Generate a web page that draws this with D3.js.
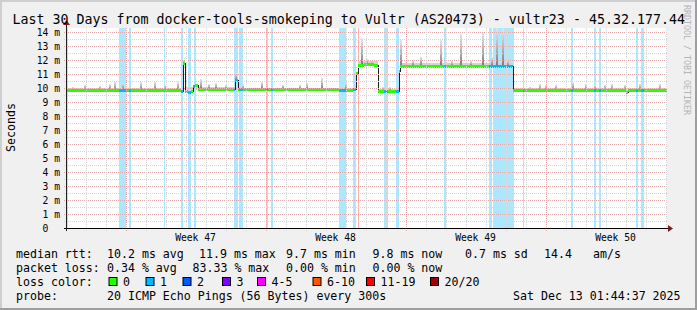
<!DOCTYPE html>
<html>
<head>
<meta charset="utf-8">
<script src="https://cdn.jsdelivr.net/npm/d3@7"></script>
<style>
  body { margin: 0; background: #f0f0f0; }
  svg text { font-family: "DejaVu Sans Mono", monospace; white-space: pre; fill: #000; }
</style>
</head>
<body>
<div id="chart"></div>
<script>
// window: last 30 days ending Sat Dec 13 01:44:37 2025 (grid drawn in CET)
const DAY = 864e5
const tEnd = Date.UTC(2025, 11, 13, 0, 44, 37)
const tStart = tEnd - 30 * DAY
const tzShift = 3600e3

// median rtt in ms, [startDay, endDay, value, lossLevel]
const medianSegs = [
  [0.00, 2.60, 9.85, 0], [2.60, 2.95, 9.85, 1], [2.95, 3.10, 9.85, 0], [3.10, 3.20, 9.85, 1],
  [3.20, 5.70, 9.85, 0], [5.70, 5.80, 9.80, 1], [5.80, 5.90, 11.80, 0], [5.90, 6.035, 9.80, 0],
  [6.035, 6.20, 9.75, 1], [6.20, 6.30, 9.80, 0], [6.30, 6.42, 10.15, 1], [6.42, 6.55, 10.25, 0],
  [6.55, 8.325, 9.95, 0], [8.325, 8.40, 9.90, 1], [8.40, 8.525, 10.55, 1], [8.525, 8.59, 9.90, 0],
  [8.59, 8.81, 9.90, 1], [8.81, 9.935, 9.90, 0], [9.935, 10.05, 9.90, 1], [10.05, 10.185, 9.90, 0],
  [10.185, 10.30, 9.90, 1], [10.30, 13.60, 9.90, 0], [13.60, 13.935, 9.85, 1], [13.935, 14.315, 9.85, 0],
  [14.315, 14.435, 9.90, 1], [14.435, 14.55, 11.05, 0], [14.55, 14.85, 11.65, 0], [14.85, 15.35, 11.75, 0],
  [15.35, 15.55, 11.65, 0], [15.55, 15.86, 9.80, 0], [15.86, 16.035, 9.80, 1], [16.035, 16.45, 9.80, 0],
  [16.45, 16.575, 9.80, 1], [16.575, 16.65, 11.25, 0], [16.65, 18.85, 11.55, 0], [18.85, 18.925, 11.55, 1],
  [18.925, 21.115, 11.55, 0], [21.115, 22.30, 11.55, 1], [22.30, 22.80, 9.85, 0], [22.80, 22.865, 9.85, 1],
  [22.865, 25.20, 9.85, 0], [25.20, 25.30, 9.85, 1], [25.30, 26.325, 9.85, 0], [26.325, 26.45, 9.85, 1],
  [26.45, 26.575, 9.85, 0], [26.575, 26.70, 9.85, 1], [26.70, 27.95, 9.85, 0], [27.95, 28.05, 9.75, 0],
  [28.05, 28.45, 9.85, 0], [28.45, 28.55, 9.85, 1], [28.55, 28.70, 9.85, 0], [28.70, 28.85, 9.85, 1],
  [28.85, 30.00, 9.85, 0]
]

// loss periods, [startDay, endDay, lossLevel]
const lossBars = [
  [0.00, 0.06, 1], [2.60, 2.95, 1], [3.10, 3.20, 1], [4.825, 4.875, 1], [5.70, 5.80, 1],
  [6.035, 6.20, 1], [6.325, 6.45, 1], [8.325, 8.535, 1], [8.59, 8.81, 1], [9.935, 10.05, 1],
  [10.185, 10.30, 1], [13.60, 13.935, 1], [14.315, 14.435, 1], [14.55, 14.615, 19],
  [15.86, 16.035, 1], [16.45, 16.59, 1], [18.85, 18.925, 1], [21.115, 21.25, 1],
  [21.315, 22.35, 1], [22.80, 22.865, 1], [25.20, 25.30, 1], [26.325, 26.45, 1],
  [26.575, 26.70, 1], [28.45, 28.55, 1], [28.70, 28.85, 1]
]

// smoke band just around the median, [startDay, endDay, low, high]
const smokeBands = [
  [0.00, 5.80, 9.75, 10.00], [5.90, 8.40, 9.85, 10.04], [8.525, 14.435, 9.80, 10.00],
  [14.55, 15.55, 11.55, 11.90], [15.55, 16.575, 9.72, 9.95], [16.65, 22.30, 11.45, 11.78],
  [22.30, 30.00, 9.75, 10.00]
]

// smoke spikes (slowest pings), [day, top ms]
const smokeSpikes = [
  [0.30, 10.10], [0.90, 10.20], [1.65, 10.15], [2.15, 10.30], [2.40, 10.45], [2.80, 10.35],
  [3.70, 10.45], [4.40, 10.45], [4.90, 10.25], [5.55, 10.40], [5.85, 12.00], [6.70, 10.65],
  [7.10, 10.30], [7.45, 10.35], [7.95, 10.20], [8.45, 11.05], [8.80, 10.20], [9.75, 10.45],
  [10.80, 10.20], [11.65, 10.20], [12.00, 10.35], [12.75, 10.70], [13.95, 10.35],
  [14.75, 13.60], [15.00, 12.05], [15.25, 11.95], [15.80, 10.10], [16.15, 10.10],
  [16.70, 13.45], [17.30, 12.00], [17.70, 12.20], [18.70, 13.40], [19.25, 11.95], [19.70, 13.85],
  [20.20, 11.95], [20.80, 14.00], [21.25, 12.20], [21.50, 14.30], [21.80, 14.20], [22.05, 12.00],
  [23.15, 10.10], [23.65, 10.30], [23.95, 10.20], [24.45, 10.20], [25.30, 10.40], [25.95, 10.30],
  [26.40, 10.20], [26.90, 10.25], [27.25, 10.30], [27.90, 10.20], [28.65, 10.30], [29.65, 10.30]
]

const lossColors = {0: "#26ff00", 1: "#00b8ff", 2: "#0059ff", 3: "#7e00ff", 5: "#ff00ff", 10: "#ff5500", 19: "#ff0000", 20: "#a10000"}
const lossLegend = [["0", 0], ["1", 1], ["2", 2], ["3", 3], ["4-5", 5], ["6-10", 10], ["11-19", 19], ["20/20", 20]]

const titleText = "Last 30 Days from docker-tools-smokeping to Vultr (AS20473) - vultr23 - 45.32.177.44"
const legendRows = [
  [["median rtt:", 16], ["10.2 ms avg", 107], ["11.9 ms max", 199], ["9.7 ms min", 286], ["9.8 ms now", 372.5], ["0.7 ms sd", 465], ["14.4", 544], ["am/s", 593]],
  [["packet loss:", 16], ["0.34 % avg", 107], ["83.33 % max", 192.5], ["0.00 % min", 286], ["0.00 % now", 372.5]],
  [["loss color:", 16]],
  [["probe:", 16], ["20 ICMP Echo Pings (56 Bytes) every 300s", 107], ["Sat Dec 13 01:44:37 2025", 513]]
]
const swatchX = [108.5, 145.5, 182.5, 222, 257, 312.5, 366, 430]

const W = 697, H = 310
const plot = {left: 67, right: 667, top: 28, bottom: 228}

const svg = d3.select("#chart").append("svg")
  .attr("width", W).attr("height", H)

// background with shading
svg.append("rect").attr("width", W).attr("height", H).attr("fill", "#f0f0f0")
svg.append("path").attr("d", `M0,${H} V0 H${W}`).attr("fill", "none").attr("stroke", "#cfcfcf").attr("stroke-width", 4)
svg.append("path").attr("d", `M0,${H} H${W} V0`).attr("fill", "none").attr("stroke", "#9e9e9e").attr("stroke-width", 4)

const dt = d => new Date(tStart + d * DAY)
const x = d3.scaleUtc().domain([new Date(tStart), new Date(tEnd)]).range([plot.left, plot.right])
const y = d3.scaleLinear().domain([0, 200 / 14]).range([plot.bottom, plot.top])
const px = d => Math.round(x(dt(d)))
const py = v => Math.round(y(v))

svg.append("rect")
  .attr("x", plot.left).attr("y", plot.top)
  .attr("width", plot.right - plot.left).attr("height", plot.bottom - plot.top)
  .attr("fill", "#fff")

svg.append("clipPath").attr("id", "clip").append("rect")
  .attr("x", plot.left).attr("y", plot.top)
  .attr("width", plot.right - plot.left).attr("height", plot.bottom - plot.top)

const g = svg.append("g").attr("clip-path", "url(#clip)").attr("shape-rendering", "crispEdges")

// loss shading
g.selectAll(".loss").data(lossBars).enter().append("rect")
  .attr("x", d => px(d[0]))
  .attr("width", d => Math.max(1, px(d[1]) - px(d[0])))
  .attr("y", plot.top).attr("height", plot.bottom - plot.top)
  .attr("fill", d => lossColors[d[2]])
  .attr("opacity", 0.33)

// grid
const localStart = new Date(tStart + tzShift), localEnd = new Date(tEnd + tzShift)
const days = d3.utcDay.range(localStart, localEnd).map(d => new Date(+d - tzShift))
const weeks = d3.utcSunday.range(d3.utcSunday.floor(localStart), localEnd).map(d => new Date(+d - tzShift))
const isWeek = d => weeks.some(w => +w === +d)

const grid = svg.append("g").attr("shape-rendering", "crispEdges")
d3.range(0, 14.01, 0.5).forEach(v => {
  if (v === 0) return
  grid.append("line")
    .attr("x1", plot.left - 3).attr("x2", plot.right)
    .attr("y1", py(v) + 0.5).attr("y2", py(v) + 0.5)
    .attr("stroke", v % 1 === 0 ? "#e6a6a6" : "#d6d6d6")
    .attr("stroke-dasharray", "1,1")
})
days.forEach(d => {
  grid.append("line")
    .attr("x1", Math.round(x(d)) + 0.5).attr("x2", Math.round(x(d)) + 0.5)
    .attr("y1", plot.top).attr("y2", plot.bottom + 3)
    .attr("stroke", isWeek(d) ? "#e6a6a6" : "#d6d6d6")
    .attr("stroke-dasharray", "1,1")
})

// smoke
const defs = svg.append("defs")
const grad = defs.append("linearGradient").attr("id", "smoke")
  .attr("x1", 0).attr("y1", 1).attr("x2", 0).attr("y2", 0)
grad.append("stop").attr("offset", 0).attr("stop-color", "#7a7a7a")
grad.append("stop").attr("offset", 0.45).attr("stop-color", "#b0b0b0")
grad.append("stop").attr("offset", 1).attr("stop-color", "#e6e6e6")

g.selectAll(".band").data(smokeBands).enter().append("rect")
  .attr("x", d => px(d[0]))
  .attr("width", d => px(d[1]) - px(d[0]))
  .attr("y", d => py(d[3]))
  .attr("height", d => py(d[2]) - py(d[3]))
  .attr("fill", "#d2d2d2")

const medianAt = day => {
  const s = medianSegs.find(m => day >= m[0] && day < m[1])
  return s ? s[2] : 9.85
}
g.selectAll(".spike").data(smokeSpikes).enter().append("rect")
  .attr("x", d => px(d[0]) - 1)
  .attr("width", 2)
  .attr("y", d => py(d[1]))
  .attr("height", d => py(medianAt(d[0])) - py(d[1]))
  .attr("fill", "url(#smoke)")

// median: thin dark line, then colored by loss
const pts = []
medianSegs.forEach(s => { pts.push([s[0], s[2]]) })
pts.push([30, medianSegs[medianSegs.length - 1][2]])
g.append("path")
  .attr("d", d3.line().curve(d3.curveStepAfter).x(d => px(d[0]) + 0.5).y(d => py(d[1]) + 0.5)(pts))
  .attr("fill", "none").attr("stroke", "#202020").attr("stroke-width", 1)

g.selectAll(".med").data(medianSegs).enter().append("line")
  .attr("x1", d => px(d[0])).attr("x2", d => px(d[1]))
  .attr("y1", d => py(d[2]) + 0.5).attr("y2", d => py(d[2]) + 0.5)
  .attr("stroke", d => lossColors[d[3]])
  .attr("stroke-width", 3)

// axes
svg.append("line").attr("x1", plot.left - 3).attr("x2", plot.right + 3)
  .attr("y1", plot.bottom + 0.5).attr("y2", plot.bottom + 0.5).attr("stroke", "#000")
svg.append("line").attr("x1", plot.left - 0.5).attr("x2", plot.left - 0.5)
  .attr("y1", plot.bottom + 3).attr("y2", plot.top - 3).attr("stroke", "#202020")
svg.append("path").attr("d", `M${plot.right + 1},${plot.bottom - 3} L${plot.right + 6},${plot.bottom + 0.5} L${plot.right + 1},${plot.bottom + 4} Z`)
  .attr("fill", "#7f1c1c")
svg.append("path").attr("d", `M${plot.left - 4},${plot.top - 3} L${plot.left - 0.5},${plot.top - 8} L${plot.left + 3},${plot.top - 3} Z`)
  .attr("fill", "#7f1c1c")

// y labels
d3.range(0, 15).forEach(v => {
  svg.append("text")
    .attr("x", 60).attr("y", y(v) + 3.5)
    .attr("text-anchor", "end")
    .style("font-size", "9.7px")
    .text(v === 0 ? "0  " : v + " m")
})

// week labels
weeks.forEach(w => {
  const c = new Date(+w + 3.5 * DAY)
  if (c < new Date(tStart) || c > new Date(tEnd)) return
  svg.append("text")
    .attr("x", x(c)).attr("y", 241)
    .attr("text-anchor", "middle")
    .style("font-size", "9.7px")
    .text("Week " + d3.utcFormat("%V")(new Date(+c + tzShift)))
})

svg.append("text")
  .attr("transform", "translate(14.5,127.5) rotate(-90)")
  .attr("text-anchor", "middle")
  .style("font-size", "11.6px")
  .text("Seconds")

svg.append("text")
  .attr("x", 12.5).attr("y", 24)
  .style("font-size", "13.3px")
  .text(titleText)

svg.append("text")
  .attr("transform", "translate(684,5) rotate(90)")
  .style("font-size", "8.3px")
  .style("fill", "#b4b4b4")
  .text("RRDTOOL / TOBI OETIKER")

// legend
legendRows.forEach((row, i) => {
  row.forEach(([t, lx]) => {
    svg.append("text")
      .attr("x", lx).attr("y", 258 + i * 13.9)
      .style("font-size", "11.6px")
      .text(t)
  })
})
lossLegend.forEach(([label, lvl], i) => {
  svg.append("rect")
    .attr("x", swatchX[i] + 0.5).attr("y", 277.5)
    .attr("width", 8).attr("height", 8)
    .attr("fill", lossColors[lvl]).attr("stroke", "#000")
  svg.append("text")
    .attr("x", swatchX[i] + 14.5).attr("y", 258 + 2 * 13.9)
    .style("font-size", "11.6px")
    .text(label)
})
</script>
</body>
</html>
